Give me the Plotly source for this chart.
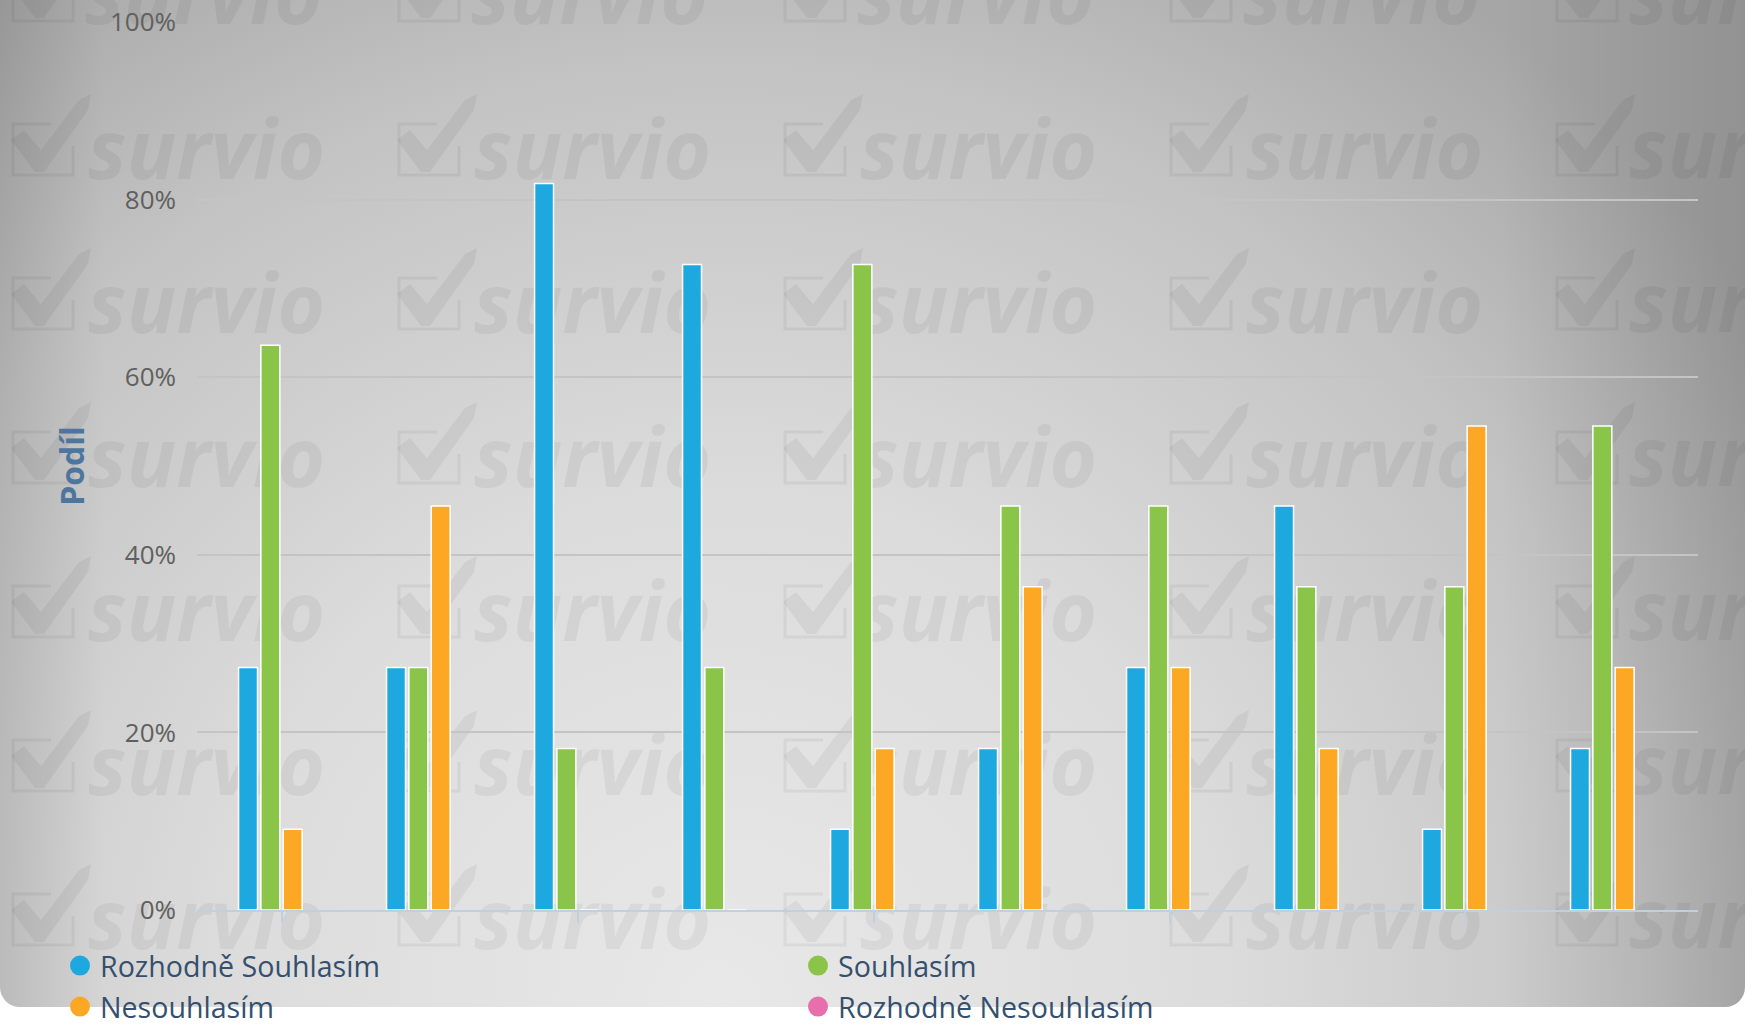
import base64
import plotly.graph_objects as go

# ---------------- data ----------------
categories = ["1", "2", "3", "4", "5", "6", "7", "8", "9", "10"]
rozhodne_souhlasim = [27.3, 27.3, 81.8, 72.7, 9.1, 18.2, 27.3, 45.5, 9.1, 18.2]
souhlasim = [63.6, 27.3, 18.2, 27.3, 72.7, 45.5, 45.5, 36.4, 36.4, 54.5]
nesouhlasim = [9.1, 45.5, 0.0, 0.0, 18.2, 36.4, 27.3, 18.2, 54.5, 27.3]
rozhodne_nesouhlasim = [0.0, 0.0, 0.0, 0.0, 0.0, 0.0, 0.0, 0.0, 0.0, 0.0]
series_names = ["Rozhodně Souhlasím", "Souhlasím", "Nesouhlasím", "Rozhodně Nesouhlasím"]
y_tick_values = [0, 20, 40, 60, 80, 100]
y_tick_labels = ["0%", "20%", "40%", "60%", "80%", "100%"]
axis_title = "Podíl"
watermark_text = "survio"

# ---------------- layout geometry (px) ----------------
W, H = 1754, 1028
ML, MR, MT, MB = 197, 56, 22, 118
PW, PH = W - ML - MR, H - MT - MB


def px_x(p):
    return (p - ML) / PW


def px_y(p):
    return 1 - (p - MT) / PH


colors = ["#1EA8E0", "#8AC448", "#FCA824", "#E76FAB"]
series = [rozhodne_souhlasim, souhlasim, nesouhlasim, rozhodne_nesouhlasim]

WM_COLOR = "rgba(0,0,0,0.05)"
WM_SIZE = 82

# ---------------- background (gradient card + watermark tiles) ----------------
col_lefts = [11 + 386 * k for k in range(5)]
row_bases = [24 + 154 * j for j in range(7)]
icon_parts = []
edge_text_parts = []
text_tiles = []
for ci, bx in enumerate(col_lefts):
    for rj, by in enumerate(row_bases):
        icon_parts.append(
            f'<path d="M{bx+40},{by-54} L{bx+2},{by-54} L{bx+2},{by-3} L{bx+62},{by-3} L{bx+62},{by-32}" '
            f'fill="none" stroke="{WM_COLOR}" stroke-width="3"/>'
        )
        icon_parts.append(
            f'<polygon points="{bx},{by-38} {bx+13},{by-48} {bx+30},{by-28} {bx+68},{by-78} '
            f'{bx+80},{by-84} {bx+77},{by-68} {bx+33},{by-6} {bx+24},{by-6}" fill="{WM_COLOR}"/>'
        )
        tl = bx + 74
        if rj == 0 or ci == len(col_lefts) - 1:
            # tiles cut by the card edge are part of the background artwork
            edge_text_parts.append(
                f'<text x="{tl}" y="{by}" font-family="Open Sans" font-size="{WM_SIZE}" '
                f'font-weight="bold" font-style="italic" fill="{WM_COLOR}">{watermark_text}</text>'
            )
        else:
            text_tiles.append((tl, by))

svg = f'''<svg xmlns="http://www.w3.org/2000/svg" width="{W}" height="{H}" viewBox="0 0 {W} {H}">
<defs>
<radialGradient id="g" gradientUnits="userSpaceOnUse" cx="720" cy="1000" r="1250">
<stop offset="0" stop-color="#e8e8e8"/>
<stop offset="0.4" stop-color="#dcdcdc"/>
<stop offset="0.75" stop-color="#c3c3c3"/>
<stop offset="1" stop-color="#a6a6a6"/>
</radialGradient>
<linearGradient id="l" x1="0" y1="0" x2="1" y2="0">
<stop offset="0" stop-color="#000" stop-opacity="0.10"/>
<stop offset="0.06" stop-color="#000" stop-opacity="0"/>
<stop offset="0.86" stop-color="#000" stop-opacity="0"/>
<stop offset="1" stop-color="#000" stop-opacity="0.12"/>
</linearGradient>
<clipPath id="c"><rect x="0" y="-40" width="1745" height="1047" rx="20" ry="20"/></clipPath>
</defs>
<rect x="0" y="0" width="{W}" height="{H}" fill="#ffffff"/>
<rect x="0" y="-40" width="1745" height="1047" rx="20" ry="20" fill="url(#g)"/>
<rect x="0" y="-40" width="1745" height="1047" rx="20" ry="20" fill="url(#l)"/>
<g clip-path="url(#c)">{''.join(icon_parts)}{''.join(edge_text_parts)}</g>
</svg>'''
svg_uri = "data:image/svg+xml;base64," + base64.b64encode(svg.encode("utf-8")).decode("ascii")

fig = go.Figure()

for name, vals, col in zip(series_names, series, colors):
    fig.add_trace(go.Bar(
        x=categories, y=vals, name=name, legendgroup=name, showlegend=False,
        marker=dict(color=col, line=dict(color="white", width=1.5 if col != colors[3] else 0)),
        hoverinfo="x+y+name",
    ))

# legend entries with round symbols (two rows, two columns)
for i, (name, col) in enumerate(zip(series_names, colors)):
    fig.add_trace(go.Scatter(
        x=[None], y=[None], mode="markers", name=name, legendgroup=name,
        marker=dict(symbol="circle", size=16, color=col, line=dict(color=col, width=4)),
        legend="legend" if i < 2 else "legend2",
    ))

legend_common = dict(
    orientation="h", xanchor="left", yanchor="middle",
    x=px_x(60), entrywidth=693, entrywidthmode="pixels",
    font=dict(family="Open Sans", size=28.6, color="#34506e"),
    bgcolor="rgba(0,0,0,0)", borderwidth=0, itemclick=False,
)

shapes = []
for tl, by in text_tiles:
    cy = by - 25
    shapes.append(dict(
        type="rect", xref="paper", yref="paper", layer="below",
        x0=px_x(tl), x1=px_x(tl + 270), y0=px_y(cy + 42), y1=px_y(cy - 42),
        line=dict(width=0), fillcolor="rgba(0,0,0,0)",
        label=dict(text=watermark_text, textposition="middle left", padding=0,
                   font=dict(family="Open Sans", size=WM_SIZE, weight="bold", style="italic",
                             color=WM_COLOR)),
    ))

fig.update_layout(
    width=W, height=H,
    margin=dict(l=ML, r=MR, t=MT, b=MB, autoexpand=False),
    paper_bgcolor="#ffffff", plot_bgcolor="rgba(0,0,0,0)",
    barmode="group", bargap=0.397, bargroupgap=0.15,
    font=dict(family="Open Sans"),
    legend=dict(legend_common, y=px_y(966)),
    legend2=dict(legend_common, y=px_y(1007)),
    images=[dict(source=svg_uri, xref="paper", yref="paper",
                 x=px_x(0), y=px_y(0), sizex=W / PW, sizey=H / PH,
                 xanchor="left", yanchor="top", sizing="stretch", layer="below")],
    shapes=shapes,
    xaxis=dict(
        type="category", range=[-0.571, 9.571], showgrid=False, zeroline=False,
        showline=True, linecolor="#C0D0E0", linewidth=2,
        tickmode="array", tickvals=categories[::2], ticks="outside", ticklen=11,
        tickwidth=2, tickcolor="#C0D0E0", showticklabels=False,
    ),
    yaxis=dict(
        range=[0, 100], tickmode="array", tickvals=y_tick_values, ticktext=y_tick_labels,
        showgrid=True, gridcolor="#C4C4C4", gridwidth=2, zeroline=False, showline=False,
        tickfont=dict(family="Open Sans", size=26, color="#606060"),
        ticklabelstandoff=20,
        title=dict(text=axis_title, standoff=15,
                   font=dict(family="Open Sans", size=32, weight="bold", color="#4d759e")),
    ),
    showlegend=True,
)

fig.write_html(
    "out.html",
    config={"displayModeBar": False},
    post_script="document.body.style.margin='0';document.body.style.overflow='hidden';",
)
